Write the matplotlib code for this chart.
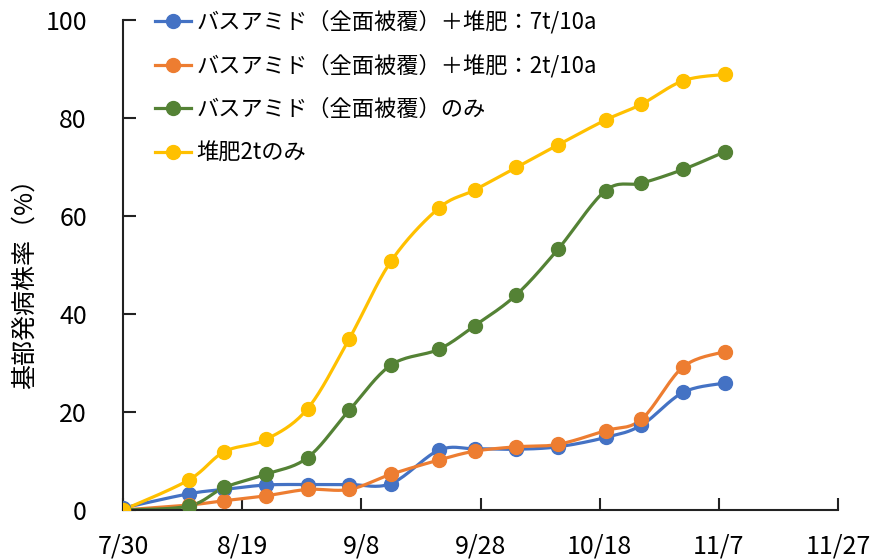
import numpy as np
import pandas as pd
import matplotlib
matplotlib.use("Agg")
import matplotlib.pyplot as plt
import matplotlib.dates as mdates

plt.rcParams['font.family'] = ['Noto Sans CJK JP', 'DejaVu Sans']

dates = ["7/30", "8/10", "8/16", "8/23", "8/30", "9/6", "9/13", "9/21",
         "9/27", "10/4", "10/11", "10/19", "10/25", "11/1", "11/8"]

basamid_7t = [0.4, 3.3, 4.2, 5.1, 5.2, 5.2, 5.4, 12.2, 12.5, 12.4, 12.9, 14.8, 17.3, 24.0, 25.9]
basamid_2t = [0.0, 1.0, 1.9, 2.9, 4.2, 4.2, 7.3, 10.2, 12.0, 12.9, 13.4, 16.2, 18.5, 29.2, 32.3]
basamid_only = [0.0, 0.8, 4.6, 7.3, 10.7, 20.4, 29.6, 32.8, 37.6, 43.9, 53.2, 65.2, 66.7, 69.5, 73.1]
compost_only = [0.0, 6.1, 11.9, 14.4, 20.7, 35.0, 50.8, 61.6, 65.3, 69.9, 74.5, 79.6, 82.8, 87.6, 88.9]

labels = ["バスアミド（全面被覆）＋堆肥：7t/10a",
          "バスアミド（全面被覆）＋堆肥：2t/10a",
          "バスアミド（全面被覆）のみ",
          "堆肥2tのみ"]
colors = ["#4472C4", "#ED7D31", "#548235", "#FFC000"]
series = [basamid_7t, basamid_2t, basamid_only, compost_only]

tick_dates = ["7/30", "8/19", "9/8", "9/28", "10/18", "11/7", "11/27"]

def to_dt(s):
    return pd.Timestamp(f"2021/{s}")

x = [to_dt(d) for d in dates]
xnum = mdates.date2num(x)

fig = plt.figure(figsize=(8.79, 5.6), dpi=100)
ax = fig.add_axes([123/879, 50/560, 715/879, 490/560])
ax.set_xlim(mdates.date2num(to_dt("7/30")), mdates.date2num(to_dt("11/27")))
ax.set_ylim(0, 100)

def smooth(xs, ys, n=20):
    # Excel-like smoothed line: Catmull-Rom Bezier in display space
    pts = ax.transData.transform(np.column_stack([xs, ys]))
    out = [pts[0]]
    for i in range(len(pts) - 1):
        p0 = pts[i - 1] if i > 0 else pts[i]
        p1 = pts[i]
        p2 = pts[i + 1]
        p3 = pts[i + 2] if i + 2 < len(pts) else pts[i + 1]
        c1 = p1 + (p2 - p0) / 6
        c2 = p2 - (p3 - p1) / 6
        t = np.linspace(0, 1, n)[1:, None]
        seg = ((1 - t) ** 3) * p1 + 3 * ((1 - t) ** 2) * t * c1 + 3 * (1 - t) * t ** 2 * c2 + t ** 3 * p2
        out.extend(seg)
    out = np.array(out)
    return ax.transData.inverted().transform(out).T

for ys, c, lab in zip(series, colors, labels):
    sx, sy = smooth(xnum, np.array(ys))
    ax.plot(sx, sy, color=c, lw=2.3, zorder=2)
    ax.plot(xnum, ys, 'o', color=c, ms=10, zorder=3)
    ax.plot([], [], '-o', color=c, lw=2.3, ms=10, label=lab)

ax.set_xticks([mdates.date2num(to_dt(d)) for d in tick_dates])
ax.set_xticklabels(tick_dates)
ax.set_yticks(range(0, 101, 20))

for s in ['top', 'right']:
    ax.spines[s].set_visible(False)
for s in ['left', 'bottom']:
    ax.spines[s].set_linewidth(1.5)
    ax.spines[s].set_color('#222222')
ax.tick_params(axis='both', direction='in', length=9, width=1.5, labelsize=18, color='#222222')
ax.tick_params(axis='x', pad=17)
ax.tick_params(axis='y', pad=26)
ax.set_ylabel("基部発病株率（%）", fontsize=18)
ax.yaxis.set_label_coords(-0.12, 0.475)

ax.legend(loc='upper left', bbox_to_anchor=(0.033, 1.039), frameon=False, fontsize=16,
          handlelength=1.6, handletextpad=0.25, labelspacing=0.93, borderaxespad=0)

fig.savefig("out.png", dpi=100)
